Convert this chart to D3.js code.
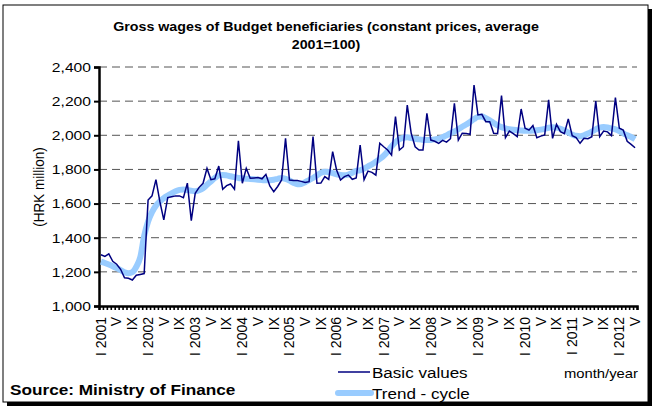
<!DOCTYPE html>
<html>
<head>
<meta charset="utf-8">
<script src="https://cdn.jsdelivr.net/npm/d3@7"></script>
<style>
  body { margin: 0; background: #fff; }
  svg, svg text { font-family: "Liberation Sans", Arial, sans-serif; }
  svg { display: block; }
</style>
</head>
<body>
<svg id="chart" width="655" height="414"></svg>
<script>
const romans = ["I", "II", "III", "IV", "V", "VI", "VII", "VIII", "IX", "X", "XI", "XII"];
const years = [2001, 2002, 2003, 2004, 2005, 2006, 2007, 2008, 2009, 2010, 2011, 2012];

// Basic values, monthly I 2001 - V 2012
const basic = [
  1300, 1290, 1305, 1262, 1245, 1215, 1165, 1162, 1152, 1180, 1185, 1190,
  1621, 1645, 1740, 1611, 1504, 1635, 1640, 1645, 1645, 1635, 1720, 1500,
  1660, 1695, 1719, 1806, 1740, 1745, 1820, 1684, 1705, 1715, 1684, 1968,
  1719, 1806, 1748, 1750, 1752, 1745, 1771, 1703, 1670, 1700, 1738, 1982,
  1738, 1735, 1735, 1730, 1723, 1728, 1992, 1719, 1720, 1758, 1742, 1904,
  1797, 1738, 1758, 1767, 1742, 1750, 1943, 1740, 1790, 1783, 1767, 1953,
  1933, 1914, 1884, 2109, 1914, 1933, 2177, 2012, 1933, 1914, 1914, 2129,
  1972, 1965, 1953, 1970, 1960, 1980, 2187, 1972, 2012, 2010, 2006, 2294,
  2119, 2123, 2080, 2080, 2012, 2010, 2232, 1986, 2025, 2010, 1992, 2154,
  2041, 2030, 2057, 1986, 1995, 2002, 2207, 1982, 2064, 2021, 2010, 2096,
  1998, 1986, 1953, 1982, 1980, 1992, 2201, 1992, 2025, 2020, 1998, 2221,
  2041, 2030, 1965, 1947, 1927
];

// Trend - cycle
const trend = [
  1260, 1252, 1243, 1233, 1222, 1210, 1198, 1192, 1198, 1230, 1285, 1410,
  1495, 1550, 1588, 1612, 1632, 1647, 1660, 1672, 1680, 1682, 1680, 1675,
  1672, 1678, 1690, 1710, 1730, 1750, 1765, 1768, 1765, 1760, 1755, 1750,
  1748, 1746, 1744, 1742, 1740, 1738, 1736, 1737, 1740, 1745, 1750, 1745,
  1735, 1722, 1713, 1715, 1725, 1738, 1750, 1765, 1780, 1787, 1785, 1778,
  1772, 1768, 1766, 1770, 1780, 1792, 1795, 1805, 1818, 1830, 1845, 1862,
  1880, 1905, 1935, 1960, 1978, 1986, 1988, 1984, 1980, 1976, 1973, 1972,
  1973, 1976, 1980, 1988, 2000, 2012, 2022, 2035, 2050, 2063, 2078, 2095,
  2108, 2110, 2100, 2088, 2072, 2058, 2048, 2040, 2035, 2032, 2030, 2028,
  2027, 2027, 2028, 2030, 2033, 2038, 2044, 2047, 2045, 2038, 2028, 2016,
  2005, 1997, 1995, 2000, 2010, 2022, 2035, 2045, 2048, 2046, 2040, 2035,
  2025, 2012, 2000, 1990, 1977
];

const yTicks = [1000, 1200, 1400, 1600, 1800, 2000, 2200, 2400];

// category names: "I 2001", "II", ... one per month
const months = basic.map((d, i) => {
    const m = i % 12, yr = years[Math.floor(i / 12)];
    return m === 0 ? `${romans[m]} ${yr}` : romans[m];
});

const svg = d3.select("#chart");
const plotLeft = 99, plotRight = 637, plotTop = 67, plotBottom = 306;
const font = "'Liberation Sans', Arial, sans-serif";

// the original text is a bit wider than Arial, so stretch it horizontally
function label(px, py, str, size, sx, opts = {}) {
    return svg.append("text")
        .attr("transform", `translate(${px},${py}) scale(${sx},1)`)
        .attr("text-anchor", opts.anchor || "start")
        .attr("font-size", size)
        .attr("font-weight", opts.bold ? "bold" : "normal")
        .text(str);
}

// frame with shadow
svg.append("rect").attr("x", 7).attr("y", 9).attr("width", 645).attr("height", 397).attr("fill", "#000");
svg.append("rect").attr("x", 3).attr("y", 5).attr("width", 645).attr("height", 397)
    .attr("fill", "#fff").attr("stroke", "#000").attr("stroke-width", 1);

const x = d3.scaleBand()
    .domain(months.map((d, i) => i))
    .range([plotLeft, plotRight])
    .padding(0);

const xEdge = d3.scaleLinear().domain([0, months.length]).range([plotLeft, plotRight]);

const y = d3.scaleLinear()
    .domain([1000, 2400])
    .range([plotBottom, plotTop]);

// Gridlines
svg.append("g")
    .selectAll("line")
    .data(yTicks.filter(d => d > 1000))
    .enter()
    .append("line")
    .attr("x1", plotLeft)
    .attr("x2", plotRight)
    .attr("y1", d => y(d))
    .attr("y2", d => y(d))
    .attr("stroke", "#555")
    .attr("stroke-width", 1)
    .attr("stroke-dasharray", "8,5");

// Title
label(326, 31, "Gross wages of Budget beneficiaries (constant prices, average", "12.5px", 1.14, { anchor: "middle", bold: true });
label(326, 49, "2001=100)", "12.5px", 1.14, { anchor: "middle", bold: true });

// Y Axis
const yAxis = svg.append("g")
    .attr("transform", `translate(${plotLeft},0)`)
    .call(d3.axisLeft(y).tickValues(yTicks).tickSize(5).tickFormat(d3.format(",")))
    .attr("font-family", font)
    .attr("font-size", "13.5px");
yAxis.select(".domain").attr("stroke-width", 2.5);
yAxis.selectAll(".tick line").attr("stroke-width", 2);
yAxis.selectAll("text")
    .attr("fill", "#000")
    .attr("x", 0)
    .attr("transform", "translate(-8,0) scale(1.16,1)");

// Y Axis Label
svg.append("text")
    .attr("transform", "rotate(-90) scale(1,1.1)")
    .attr("x", -187)
    .attr("y", 40)
    .attr("text-anchor", "middle")
    .attr("font-size", "13.5px")
    .text("(HRK million)");

// X Axis (ticks between categories)
const xAxis = svg.append("g")
    .attr("transform", `translate(0,${plotBottom})`)
    .call(d3.axisBottom(xEdge).tickValues(d3.range(months.length + 1)).tickSize(4).tickFormat(""));
xAxis.select(".domain").attr("stroke-width", 2.5);
xAxis.selectAll(".tick line").attr("stroke-width", 1.6);

// X labels every fourth month
svg.append("g")
    .selectAll("text")
    .data(months.map((d, i) => ({ label: d, i: i })).filter(d => d.i % 4 === 0))
    .enter()
    .append("text")
    .attr("transform", d => `translate(${x(d.i) + x.bandwidth() / 2 + 4.8},${plotBottom + 11}) rotate(-90)`)
    .attr("text-anchor", "end")
    .attr("font-size", "14px")
    .text(d => d.label);

// Trend line
const line = d3.line()
    .x((d, i) => x(i) + x.bandwidth() / 2)
    .y(d => y(d));

svg.append("path")
    .datum(trend)
    .attr("fill", "none")
    .attr("stroke", "#99ccff")
    .attr("stroke-width", 6)
    .attr("stroke-linejoin", "round")
    .attr("d", line.curve(d3.curveMonotoneX));

// Basic values
svg.append("path")
    .datum(basic)
    .attr("fill", "none")
    .attr("stroke", "#000080")
    .attr("stroke-width", 1.5)
    .attr("d", line.curve(d3.curveLinear));

// Legend
svg.append("line").attr("x1", 338).attr("x2", 370).attr("y1", 372).attr("y2", 372)
    .attr("stroke", "#000080").attr("stroke-width", 1.5);
label(372, 378, "Basic values", "15.5px", 1.1);
svg.append("line").attr("x1", 338).attr("x2", 371).attr("y1", 393).attr("y2", 393)
    .attr("stroke", "#99ccff").attr("stroke-width", 6).attr("stroke-linecap", "round");
label(372, 399, "Trend - cycle", "15.5px", 1.1);

label(638, 378, "month/year", "13px", 1.14, { anchor: "end" });

// Source
label(10, 395, "Source: Ministry of Finance", "15.5px", 1.11, { bold: true });
</script>
</body>
</html>
